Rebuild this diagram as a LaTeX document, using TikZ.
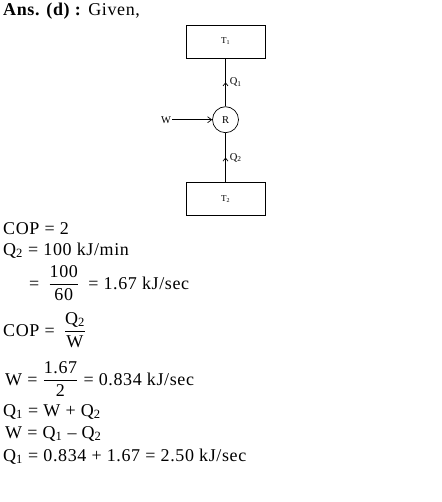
\documentclass[tikz,border=0pt]{standalone}
\usepackage{fontspec}
\setmainfont{Liberation Serif}[LetterSpace=3.5]
\usepackage{amsmath}
\usetikzlibrary{arrows.meta, positioning, decorations.markings}

\newcommand{\ratio}[2]{$\dfrac{\text{#1}}{\text{#2}}$}

\begin{document}
\begin{tikzpicture}[x=1pt, y=-1pt,
  node distance=48pt,
  reservoir/.style={rectangle, draw, line width=0.7pt, minimum width=79pt,
                    minimum height=33pt, font=\fontsize{9}{10}\selectfont},
  engine/.style={circle, draw, line width=0.7pt, minimum size=26pt,
                 inner sep=0pt, font=\fontsize{10.5}{12}\selectfont},
  heat/.style={line width=0.7pt, postaction={decorate},
               decoration={markings, mark=at position 0.5 with
               {\arrow{Straight Barb[length=3pt, width=5pt]}}}},
  arrow/.style={-{Straight Barb[length=4pt, width=6pt]}, line width=0.7pt},
  lab/.style={font=\fontsize{10.5}{12}\selectfont, inner sep=1pt},
  txt/.style={anchor=base west, inner sep=0pt, font=\fontsize{18}{21}\selectfont},
]
  \useasboundingbox (0,0) rectangle (441,502);

  \node[txt] (ans) at (3,16) {\textbf{Ans. (d) :} Given,};

  % refrigerator
  \node[reservoir] (hot) at (225.5,41.5) {T\textsubscript{1}};
  \node[engine, below=48pt of hot] (fridge) {R};
  \node[reservoir, below=49pt of fridge] (cold) {T\textsubscript{2}};
  \node[lab, left=40pt of fridge] (work) {W};

  \draw[heat] (fridge) -- node[lab, right=3pt] {Q\textsubscript{1}} (hot);
  \draw[heat] (cold) -- node[lab, right=3pt] {Q\textsubscript{2}} (fridge);
  \draw[arrow] (work) -- (fridge);

  % working
  \node[txt] (cop) at (3,234) {COP = 2};
  \node[txt] (qtwo) at (3,255) {Q\textsubscript{2} = 100 kJ/min};
  \node[txt] (qsec) at (29,289) {= \kern4pt\ratio{100}{60}\kern4pt{} = 1.67 kJ/sec};
  \node[txt] (copdef) at (3,336) {COP = \kern4pt\ratio{Q\textsubscript{2}}{W}};
  \node[txt] (wval) at (5,385) {W = \ratio{1.67}{2} = 0.834 kJ/sec};
  \node[txt] (bal) at (3,416) {Q\textsubscript{1} = W + Q\textsubscript{2}};
  \node[txt] (wbal) at (5,438) {W = Q\textsubscript{1} – Q\textsubscript{2}};
  \node[txt] (qone) at (3,461) {Q\textsubscript{1} = 0.834 + 1.67 = 2.50 kJ/sec};
\end{tikzpicture}
\end{document}
